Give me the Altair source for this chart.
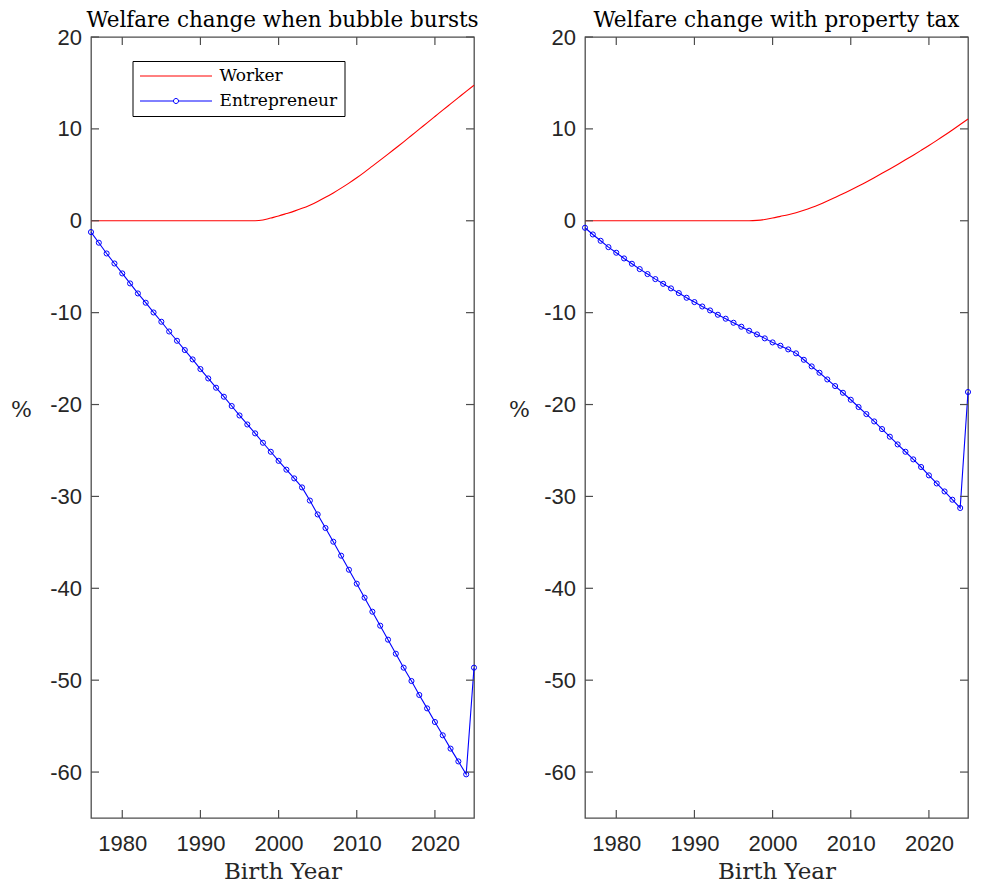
import altair as alt
import pandas as pd

years = list(range(1976, 2026))

worker_bubble = [0.0] * 22 + [
    0.08, 0.3, 0.52, 0.78, 1.05, 1.35, 1.7, 2.1, 2.55, 3.03,
    3.55, 4.1, 4.68, 5.3, 5.95, 6.6, 7.25, 7.92, 8.59, 9.28,
    9.97, 10.66, 11.35, 12.04, 12.72, 13.4, 14.08, 14.75]

entre_bubble = [
    -1.23, -2.39, -3.56, -4.65, -5.73, -6.82, -7.91, -8.92, -9.98, -10.99,
    -12.05, -13.06, -14.07, -15.09, -16.14, -17.16, -18.17, -19.15, -20.16, -21.19,
    -22.17, -23.14, -24.16, -25.14, -26.13, -27.09, -28.04, -29.02, -30.45, -31.96,
    -33.44, -34.93, -36.45, -37.98, -39.50, -41.02, -42.55, -44.07, -45.59, -47.12,
    -48.64, -50.09, -51.61, -53.07, -54.55, -56.00, -57.45, -58.84, -60.25, -48.64]

worker_tax = [0.0] * 22 + [
    0.04, 0.14, 0.30, 0.48, 0.66, 0.88, 1.14, 1.44, 1.78, 2.15,
    2.54, 2.94, 3.36, 3.79, 4.23, 4.69, 5.16, 5.64, 6.13, 6.63,
    7.14, 7.66, 8.19, 8.74, 9.30, 9.88, 10.47, 11.07]

entre_tax = [
    -0.76, -1.49, -2.18, -2.87, -3.48, -4.10, -4.68, -5.26, -5.80, -6.35,
    -6.86, -7.36, -7.87, -8.38, -8.85, -9.33, -9.76, -10.23, -10.66, -11.10,
    -11.53, -11.97, -12.37, -12.80, -13.24, -13.60, -14.00, -14.43, -15.13, -15.85,
    -16.54, -17.27, -17.99, -18.72, -19.48, -20.27, -21.04, -21.84, -22.67, -23.50,
    -24.34, -25.14, -25.97, -26.80, -27.71, -28.59, -29.46, -30.36, -31.26, -18.64]

series_names = ["Worker", "Entrepreneur"]
series_colors = ["#ff0000", "#0000ff"]
x_ticks = [1980, 1990, 2000, 2010, 2020]
y_ticks = [20, 10, 0, -10, -20, -30, -40, -50, -60]
panel_titles = ["Welfare change when bubble bursts", "Welfare change with property tax"]

W, H = 383, 781
SERIF = "DejaVu Serif"
SANS = "Liberation Sans"
AX = "#262626"
BOX = "#4d4d4d"

ENTRE_PATH = ("M-1,0H-0.07A0.07,0.07,0,1,1,0.07,0A0.07,0.07,0,1,1,-0.07,0"
              "M0.07,0H1")
SYMBOL_EXPR = "datum.value === 'Worker' ? 'M-1,0H1' : '" + ENTRE_PATH + "'"


def panel(worker, entre, title, show_legend, title_x):
    wdf = pd.DataFrame({"Year": years, "Series": "Worker", "Value": worker})
    edf = pd.DataFrame({"Year": years, "Series": "Entrepreneur", "Value": entre})
    ytdf = pd.DataFrame({"Value": y_ticks})
    xtdf = pd.DataFrame({"Year": x_ticks})

    x_enc = alt.X("Year:Q",
                  scale=alt.Scale(domain=[1976, 2025], nice=False, zero=False),
                  axis=alt.Axis(values=x_ticks, format="d", title="Birth Year",
                                labelPadding=15, titlePadding=6,
                                titleFontSize=23))
    y_enc = alt.Y("Value:Q",
                  scale=alt.Scale(domain=[-65, 20], nice=False, zero=False),
                  axis=alt.Axis(values=y_ticks, title="%", titleAngle=0,
                                labelExpr="'' + datum.value",
                                titleX=title_x, titleY=372, titleAlign="center",
                                titleBaseline="middle", labelPadding=9.5))
    if show_legend:
        legend = alt.Legend(
            orient="none", legendX=41.5, legendY=24, title=None,
            direction="vertical", labelFont=SERIF, labelFontSize=17,
            labelColor="black", strokeColor="black", fillColor="white",
            padding=7, symbolType={"expr": SYMBOL_EXPR}, symbolSize=5184,
            symbolStrokeWidth=1, symbolFillColor="transparent",
            labelOffset=7, clipHeight=16, rowPadding=8)
    else:
        legend = None
    color = alt.Color("Series:N",
                      scale=alt.Scale(domain=series_names, range=series_colors),
                      legend=legend)

    wline = alt.Chart(wdf).mark_line(strokeWidth=1.1, interpolate="monotone").encode(
        x=x_enc, y=y_enc, color=color)
    eline = alt.Chart(edf).mark_line(strokeWidth=1.1).encode(
        x=x_enc, y=y_enc, color=color)
    epts = alt.Chart(edf).mark_point(filled=False, size=26, strokeWidth=1,
                                     color="#0000ff", opacity=1).encode(
        x=x_enc, y=y_enc)

    yt_left = alt.Chart(ytdf).mark_rule(color=BOX, strokeWidth=1.2).encode(
        y=y_enc, x=alt.value(0), x2=alt.value(8))
    yt_right = alt.Chart(ytdf).mark_rule(color=BOX, strokeWidth=1.2).encode(
        y=y_enc, x=alt.value(W - 8), x2=alt.value(W))
    xt_bot = alt.Chart(xtdf).mark_rule(color=BOX, strokeWidth=1.2).encode(
        x=x_enc, y=alt.value(H - 8), y2=alt.value(H))
    xt_top = alt.Chart(xtdf).mark_rule(color=BOX, strokeWidth=1.2).encode(
        x=x_enc, y=alt.value(0), y2=alt.value(8))

    return alt.layer(wline, eline, epts, yt_left, yt_right, xt_bot, xt_top).properties(
        width=W, height=H,
        title=alt.TitleParams(text=title, font=SERIF, fontSize=21.5,
                              fontWeight="normal", color="black",
                              anchor="middle", offset=-5))


left = panel(worker_bubble, entre_bubble, panel_titles[0], True, -70)
right = panel(worker_tax, entre_tax, panel_titles[1], False, -66)

chart = alt.hconcat(left, right, spacing=111, bounds="flush").properties(
    padding={"left": 1, "top": 0, "right": 0, "bottom": 0},
    background="white",
).configure_view(
    stroke=BOX, strokeWidth=1.3
).configure_axis(
    labelFont=SANS, labelFontSize=22, labelColor=AX,
    ticks=False, domain=False, grid=False,
    titleFont=SERIF, titleFontSize=22, titleFontWeight="normal", titleColor=AX,
)

chart.save("out.html", embed_options={"renderer": "svg", "actions": False})
